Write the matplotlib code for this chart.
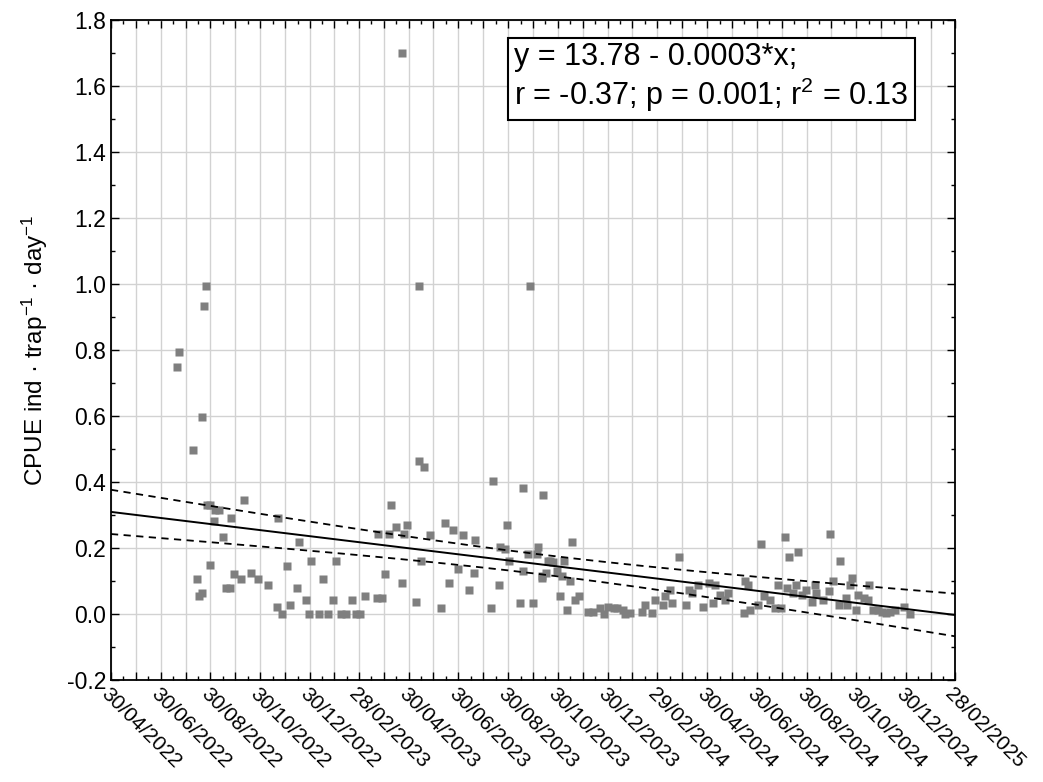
import numpy as np
import matplotlib
matplotlib.use("Agg")
import matplotlib.pyplot as plt
from datetime import datetime

plt.rcParams['font.family'] = ['Liberation Sans', 'DejaVu Sans']
plt.rcParams['mathtext.fontset'] = 'custom'
plt.rcParams['mathtext.rm'] = 'Liberation Sans'
plt.rcParams['mathtext.it'] = 'Liberation Sans'

# sampling day (days since 30/04/2022) and CPUE value
days = [357, 116, 114, 378, 514, 83, 81, 112, 101, 378, 384, 469, 505, 530, 163,
        343, 118, 121, 128, 133, 126, 147, 205, 137, 231, 349, 363, 328, 341, 359,
        391, 410, 420, 432, 447, 486, 477, 483, 488, 511, 522, 524, 536, 122, 216,
        245, 276, 380, 336, 357, 426, 445, 505, 528, 534, 105, 151, 159, 172, 180,
        193, 260, 414, 476, 108, 112, 141, 146, 228, 239, 272, 295, 311, 326, 332,
        374, 439, 204, 220, 405, 466, 501, 517, 210, 243, 255, 266, 282, 288, 301,
        305,
        565, 538, 542, 555, 529, 547, 553, 563, 551, 569, 574, 559, 585, 591, 600,
        604, 609, 617, 621, 628, 630, 636, 651, 655, 663, 667, 677, 679, 688, 686,
        697, 705, 709, 713, 720, 726, 733, 741, 738, 747, 753, 757, 776, 784, 778,
        781, 794, 797, 801, 808, 814, 822, 818, 826, 829, 832, 840, 842, 836, 847,
        852, 860, 865, 863, 873, 880, 882, 886, 894, 893, 902, 901, 906, 909, 914,
        916, 923, 928, 930, 934, 941, 945, 950, 955, 961, 973, 980]
cpue = [1.70, 0.995, 0.934, 0.995, 0.995, 0.794, 0.748, 0.598, 0.496, 0.465, 0.445,
        0.403, 0.383, 0.362, 0.346, 0.331, 0.331, 0.331, 0.315, 0.315, 0.281, 0.29,
        0.29, 0.233, 0.218, 0.265, 0.27, 0.243, 0.243, 0.243, 0.238, 0.275, 0.255,
        0.238, 0.223, 0.27, 0.203, 0.198, 0.162, 0.182, 0.182, 0.202, 0.162, 0.15,
        0.145, 0.162, 0.162, 0.162, 0.12, 0.094, 0.135, 0.125, 0.13, 0.11, 0.123,
        0.105, 0.12, 0.105, 0.125, 0.105, 0.089, 0.105, 0.094, 0.089, 0.054, 0.064,
        0.079, 0.079, 0.079, 0.042, 0.042, 0.042, 0.054, 0.048, 0.048, 0.037, 0.074,
        0.022, 0.027, 0.017, 0.017, 0.032, 0.032, 0.0, 0.0, 0.0, 0.0, 0.0, 0.0, 0.0,
        0.0,
        0.218, 0.162, 0.157, 0.162, 0.115, 0.13, 0.115, 0.1, 0.054, 0.043, 0.054,
        0.012, 0.007, 0.007, 0.017, 0.0, 0.022, 0.017, 0.017, 0.012, 0.0, 0.002,
        0.007, 0.027, 0.002, 0.042, 0.027, 0.054, 0.032, 0.074, 0.172, 0.027, 0.074,
        0.064, 0.089, 0.022, 0.094, 0.089, 0.032, 0.058, 0.043, 0.064, 0.002, 0.012,
        0.1, 0.089, 0.027, 0.213, 0.054, 0.043, 0.017, 0.017, 0.089, 0.233, 0.079,
        0.172, 0.089, 0.188, 0.064, 0.058, 0.074, 0.037, 0.064, 0.089, 0.043, 0.069,
        0.243, 0.1, 0.162, 0.027, 0.027, 0.048, 0.089, 0.11, 0.012, 0.058, 0.048,
        0.043, 0.089, 0.012, 0.012, 0.007, 0.002, 0.007, 0.012, 0.022, 0.0]

tick_labels = ['30/04/2022', '30/06/2022', '30/08/2022', '30/10/2022', '30/12/2022',
               '28/02/2023', '30/04/2023', '30/06/2023', '30/08/2023', '30/10/2023',
               '30/12/2023', '29/02/2024', '30/04/2024', '30/06/2024', '30/08/2024',
               '30/10/2024', '30/12/2024', '28/02/2025']

start = datetime.strptime(tick_labels[0], '%d/%m/%Y')
tick_days = [(datetime.strptime(s, '%d/%m/%Y') - start).days for s in tick_labels]

x = np.array(days, dtype=float)
y = np.array(cpue)

# linear fit + 95% confidence band
b, a = np.polyfit(x, y, 1)
xx = np.linspace(tick_days[0], tick_days[-1], 200)
yy = a + b * xx
res = y - (a + b * x)
n = len(x)
s = np.sqrt(np.sum(res ** 2) / (n - 2))
se = s * np.sqrt(1.0 / n + (xx - x.mean()) ** 2 / np.sum((x - x.mean()) ** 2))
t95 = 1.97

fig = plt.figure(figsize=(10.43, 7.82), dpi=100)
ax = fig.add_axes([0.1064, 0.1304, 0.8092, 0.844])

ax.plot(x, y, 's', color='#7f7f7f', ms=5.5, mec='none', zorder=3)
ax.plot(xx, yy, color='black', lw=1.4, zorder=4)
ax.plot(xx, yy + t95 * se, color='black', lw=1.3, ls=(0, (4, 3)), zorder=4)
ax.plot(xx, yy - t95 * se, color='black', lw=1.3, ls=(0, (4, 3)), zorder=4)

# monthly grid, labels every second month
mids = [(tick_days[i] + tick_days[i + 1]) / 2 for i in range(len(tick_days) - 1)]
grid_days = sorted(tick_days + mids)
ax.set_xticks(grid_days)
ax.set_xticklabels([tick_labels[tick_days.index(d)] if d in tick_days else '' for d in grid_days],
                   rotation=-45, ha='left', va='top', rotation_mode='anchor', fontsize=15)
minor = [(grid_days[i] + grid_days[i + 1]) / 2 for i in range(len(grid_days) - 1)]
ax.set_xticks(minor, minor=True)

ax.set_yticks(np.arange(-0.2, 1.81, 0.2))
ax.set_yticklabels(['%.1f' % v for v in np.arange(-0.2, 1.81, 0.2)], fontsize=16.5)
ax.set_yticks(np.arange(-0.1, 1.8, 0.2), minor=True)
ax.set_xlim(tick_days[0], tick_days[-1])
ax.set_ylim(-0.2, 1.8)

ax.grid(True, which='major', color='#d2d2d2', lw=1)
ax.set_axisbelow(True)
ax.tick_params(which='both', direction='in', top=True, right=True, color='black')
ax.tick_params(which='major', length=6, width=1)
ax.tick_params(which='minor', length=3, width=1)
ax.tick_params(axis='x', which='major', pad=3)
for sp in ax.spines.values():
    sp.set_linewidth(1.3)
    sp.set_color('black')

ax.set_ylabel('CPUE ind · trap$^{-1}$ · day$^{-1}$', fontsize=17.5, labelpad=12)

ax.text(0.478, 0.966, 'y = 13.78 - 0.0003*x;\nr = -0.37; p = 0.001; r$^2$ = 0.13',
        transform=ax.transAxes, ha='left', va='top', fontsize=22, linespacing=1.12,
        bbox=dict(boxstyle='square,pad=0.2', fc='white', ec='black', lw=1.5), zorder=5)

fig.savefig('out.png', dpi=100)
